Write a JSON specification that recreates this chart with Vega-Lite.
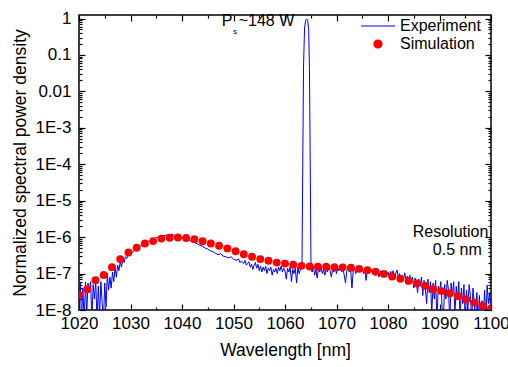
{
  "$schema": "https://vega.github.io/schema/vega-lite/v6.json",
  "width": 412,
  "height": 295,
  "autosize": {"type": "none"},
  "padding": {"left": 79, "top": 15, "right": 17, "bottom": 57},
  "background": "white",
  "config": {
    "font": "Liberation Sans",
    "view": {"stroke": "black", "strokeWidth": 1.5},
    "axis": {
      "domain": false, "grid": false, "tickColor": "black", "tickWidth": 1.2,
      "labelColor": "black", "titleColor": "black",
      "labelFont": "Liberation Sans", "labelFontSize": 17,
      "titleFont": "Liberation Sans", "titleFontSize": 17.5, "titleFontWeight": "normal"
    },
    "legend": {"labelFont": "Liberation Sans", "labelFontSize": 16, "labelColor": "black", "padding": 0}
  },
  "datasets": {
    "exp": [
      {"w":1020.0,"p":5e-9},{"w":1020.25,"p":5.5e-8},{"w":1020.5,"p":6e-9},{"w":1020.75,"p":4e-8},
      {"w":1021.0,"p":5e-9},{"w":1021.25,"p":5.8e-8},{"w":1021.5,"p":8e-9},{"w":1021.75,"p":5.5e-8},
      {"w":1022.0,"p":3e-8},{"w":1022.25,"p":6e-8},{"w":1022.5,"p":5e-9},{"w":1022.75,"p":5e-8},
      {"w":1023.0,"p":2e-8},{"w":1023.25,"p":6.5e-8},{"w":1023.5,"p":5e-9},{"w":1023.75,"p":4.5e-8},
      {"w":1024.0,"p":7e-9},{"w":1024.25,"p":6e-8},{"w":1024.5,"p":1.5e-8},{"w":1024.75,"p":5e-9},
      {"w":1025.0,"p":5.5e-8},{"w":1025.25,"p":1.2e-8},{"w":1025.5,"p":1.0e-7},{"w":1025.75,"p":3.5e-8},
      {"w":1026.0,"p":8e-8},{"w":1026.25,"p":4e-8},{"w":1026.5,"p":1.1e-7},{"w":1026.75,"p":6e-8},
      {"w":1027.0,"p":1.5e-7},{"w":1027.25,"p":8e-8},{"w":1027.5,"p":1.7e-7},{"w":1027.75,"p":1.2e-7},
      {"w":1028.0,"p":2.1e-7},{"w":1028.25,"p":1.5e-7},{"w":1028.5,"p":2.4e-7},{"w":1028.75,"p":2.0e-7},
      {"w":1029.0,"p":2.9e-7},{"w":1029.25,"p":2.6e-7},{"w":1029.5,"p":3.2e-7},{"w":1029.75,"p":3.3e-7},
      {"w":1030.0,"p":3.5e-7},{"w":1030.5,"p":4.0e-7},{"w":1031.0,"p":4.6e-7},{"w":1031.5,"p":5.2e-7},
      {"w":1032.0,"p":5.8e-7},{"w":1032.5,"p":6.5e-7},{"w":1033.0,"p":7.1e-7},{"w":1033.5,"p":7.7e-7},
      {"w":1034.0,"p":8.4e-7},{"w":1034.5,"p":9.0e-7},{"w":1035.0,"p":9.6e-7},{"w":1035.5,"p":1.02e-6},
      {"w":1036.0,"p":1.06e-6},{"w":1036.5,"p":1.1e-6},{"w":1037.0,"p":1.13e-6},{"w":1037.5,"p":1.18e-6},
      {"w":1037.75,"p":1.12e-6},{"w":1038.0,"p":1.2e-6},{"w":1038.5,"p":1.12e-6},{"w":1039.0,"p":1.08e-6},
      {"w":1039.5,"p":1.02e-6},{"w":1040.0,"p":9.6e-7},{"w":1040.5,"p":9.1e-7},{"w":1041.0,"p":8.7e-7},
      {"w":1041.5,"p":8.0e-7},{"w":1042.0,"p":7.6e-7},{"w":1042.5,"p":7.0e-7},{"w":1043.0,"p":6.6e-7},
      {"w":1043.5,"p":5.9e-7},{"w":1044.0,"p":5.6e-7},{"w":1044.5,"p":5.0e-7},{"w":1045.0,"p":4.7e-7},
      {"w":1045.5,"p":4.2e-7},{"w":1046.0,"p":4.0e-7},{"w":1046.5,"p":3.6e-7},{"w":1047.0,"p":3.3e-7},
      {"w":1047.5,"p":3.5e-7},{"w":1048.0,"p":3.0e-7},{"w":1048.5,"p":2.9e-7},{"w":1049.0,"p":2.7e-7},
      {"w":1049.5,"p":2.9e-7},{"w":1050.0,"p":2.5e-7},{"w":1050.5,"p":2.3e-7},{"w":1051.0,"p":2.5e-7},
      {"w":1051.25,"p":2.0e-7},{"w":1051.5,"p":2.2e-7},{"w":1052.0,"p":1.9e-7},{"w":1052.25,"p":2.3e-7},
      {"w":1052.5,"p":1.7e-7},{"w":1052.75,"p":1.9e-7},{"w":1053.0,"p":2.1e-7},{"w":1053.25,"p":1.5e-7},
      {"w":1053.5,"p":1.8e-7},{"w":1053.75,"p":1.3e-7},{"w":1054.0,"p":1.7e-7},{"w":1054.25,"p":2.0e-7},
      {"w":1054.5,"p":1.4e-7},{"w":1054.75,"p":1.8e-7},{"w":1055.0,"p":1.2e-7},{"w":1055.25,"p":1.6e-7},
      {"w":1055.5,"p":1.1e-7},{"w":1055.75,"p":1.5e-7},{"w":1056.0,"p":1.2e-7},{"w":1056.25,"p":1.6e-7},
      {"w":1056.5,"p":1.0e-7},{"w":1056.75,"p":1.4e-7},{"w":1057.0,"p":1.2e-7},{"w":1057.25,"p":1.5e-7},
      {"w":1057.5,"p":9e-8},{"w":1057.75,"p":1.3e-7},{"w":1058.0,"p":1.1e-7},{"w":1058.25,"p":1.4e-7},
      {"w":1058.5,"p":1.0e-7},{"w":1058.75,"p":1.5e-7},{"w":1059.0,"p":1.2e-7},{"w":1059.25,"p":1.6e-7},
      {"w":1059.5,"p":1.1e-7},{"w":1059.75,"p":1.4e-7},{"w":1060.0,"p":1.2e-7},{"w":1060.25,"p":7e-8},
      {"w":1060.5,"p":1.4e-7},{"w":1060.75,"p":1.1e-7},{"w":1061.0,"p":1.5e-7},{"w":1061.25,"p":6e-8},
      {"w":1061.5,"p":1.3e-7},{"w":1061.75,"p":1.0e-7},{"w":1062.0,"p":1.4e-7},{"w":1062.25,"p":5.5e-8},
      {"w":1062.5,"p":1.5e-7},{"w":1062.75,"p":1.0e-7},{"w":1063.0,"p":1.3e-7},{"w":1063.3,"p":1.4e-7},
      {"w":1063.45,"p":1e-4},{"w":1063.6,"p":0.05},{"w":1063.8,"p":0.55},{"w":1064.0,"p":0.88},
      {"w":1064.2,"p":0.97},{"w":1064.4,"p":0.9},{"w":1064.6,"p":0.5},{"w":1064.75,"p":0.04},
      {"w":1064.9,"p":1e-4},{"w":1065.05,"p":1.5e-7},
      {"w":1065.25,"p":1.1e-7},{"w":1065.5,"p":1.6e-7},{"w":1065.75,"p":9e-8},{"w":1066.0,"p":1.3e-7},
      {"w":1066.25,"p":7.5e-8},{"w":1066.5,"p":1.4e-7},{"w":1066.75,"p":1.1e-7},{"w":1067.0,"p":1.5e-7},
      {"w":1067.25,"p":1.0e-7},{"w":1067.5,"p":1.3e-7},{"w":1067.75,"p":9e-8},{"w":1068.0,"p":1.4e-7},
      {"w":1068.25,"p":1.1e-7},{"w":1068.5,"p":1.6e-7},{"w":1068.75,"p":1.2e-7},{"w":1069.0,"p":8e-8},
      {"w":1069.25,"p":1.3e-7},{"w":1069.5,"p":1.1e-7},{"w":1069.75,"p":1.5e-7},{"w":1070.0,"p":1.0e-7},
      {"w":1070.25,"p":1.4e-7},{"w":1070.5,"p":1.2e-7},{"w":1070.75,"p":1.6e-7},{"w":1071.0,"p":1.1e-7},
      {"w":1071.25,"p":1.4e-7},{"w":1071.5,"p":9e-8},{"w":1071.75,"p":5.5e-8},{"w":1072.0,"p":1.2e-7},
      {"w":1072.25,"p":1.5e-7},{"w":1072.5,"p":1.1e-7},{"w":1072.75,"p":1.3e-7},{"w":1073.0,"p":4e-8},
      {"w":1073.25,"p":1.2e-7},{"w":1073.5,"p":1.4e-7},{"w":1073.75,"p":1.0e-7},{"w":1074.0,"p":1.3e-7},
      {"w":1074.25,"p":1.1e-7},{"w":1074.5,"p":1.5e-7},{"w":1074.75,"p":1.2e-7},{"w":1075.0,"p":1.4e-7},
      {"w":1075.25,"p":1.0e-7},{"w":1075.5,"p":1.3e-7},{"w":1075.75,"p":6.5e-8},{"w":1076.0,"p":1.2e-7},
      {"w":1076.25,"p":1.4e-7},{"w":1076.5,"p":1.1e-7},{"w":1076.75,"p":1.3e-7},{"w":1077.0,"p":1.0e-7},
      {"w":1077.25,"p":1.2e-7},{"w":1077.5,"p":9e-8},{"w":1077.75,"p":1.3e-7},{"w":1078.0,"p":1.1e-7},
      {"w":1078.25,"p":8e-8},{"w":1078.5,"p":1.2e-7},{"w":1078.75,"p":1.0e-7},{"w":1079.0,"p":1.1e-7},
      {"w":1079.25,"p":8.5e-8},{"w":1079.5,"p":1.0e-7},{"w":1079.75,"p":9e-8},{"w":1080.0,"p":1.1e-7},
      {"w":1080.25,"p":8e-8},{"w":1080.5,"p":1.15e-7},{"w":1080.75,"p":9e-8},{"w":1081.0,"p":1.2e-7},
      {"w":1081.25,"p":7e-8},{"w":1081.5,"p":1.0e-7},{"w":1081.75,"p":1.25e-7},{"w":1082.0,"p":8e-8},
      {"w":1082.25,"p":1.0e-7},{"w":1082.5,"p":6e-8},{"w":1082.75,"p":9e-8},{"w":1083.0,"p":7e-8},
      {"w":1083.25,"p":1.05e-7},{"w":1083.5,"p":6.5e-8},{"w":1083.75,"p":8.5e-8},{"w":1084.0,"p":5.5e-8},
      {"w":1084.25,"p":9e-8},{"w":1084.5,"p":6e-8},{"w":1084.75,"p":8e-8},{"w":1085.0,"p":4e-8},
      {"w":1085.25,"p":7.5e-8},{"w":1085.5,"p":5.5e-8},{"w":1085.75,"p":3e-8},{"w":1086.0,"p":7e-8},
      {"w":1086.25,"p":4.5e-8},{"w":1086.5,"p":8e-8},{"w":1086.75,"p":2.5e-8},{"w":1087.0,"p":6.5e-8},
      {"w":1087.25,"p":4e-8},{"w":1087.5,"p":1.5e-8},{"w":1087.75,"p":7e-8},{"w":1088.0,"p":3e-8},
      {"w":1088.25,"p":6e-8},{"w":1088.5,"p":8e-9},{"w":1088.75,"p":5.5e-8},{"w":1089.0,"p":2e-8},
      {"w":1089.25,"p":6.5e-8},{"w":1089.5,"p":5e-9},{"w":1089.75,"p":4.5e-8},{"w":1090.0,"p":3e-8},
      {"w":1090.25,"p":6e-8},{"w":1090.5,"p":1.2e-8},{"w":1090.75,"p":5e-9},{"w":1091.0,"p":5e-8},
      {"w":1091.25,"p":2e-8},{"w":1091.5,"p":6.5e-8},{"w":1091.75,"p":3.5e-8},{"w":1092.0,"p":5e-9},
      {"w":1092.25,"p":5.5e-8},{"w":1092.5,"p":2.5e-8},{"w":1092.75,"p":6e-8},{"w":1093.0,"p":8e-9},
      {"w":1093.25,"p":4.5e-8},{"w":1093.5,"p":2e-8},{"w":1093.75,"p":6e-8},{"w":1094.0,"p":5e-9},
      {"w":1094.25,"p":4e-8},{"w":1094.5,"p":1.5e-8},{"w":1094.75,"p":5e-8},{"w":1095.0,"p":5e-9},
      {"w":1095.25,"p":3.5e-8},{"w":1095.5,"p":1e-8},{"w":1095.75,"p":5e-8},{"w":1096.0,"p":2.5e-8},
      {"w":1096.25,"p":5e-9},{"w":1096.5,"p":4e-8},{"w":1096.75,"p":1.5e-8},{"w":1097.0,"p":5e-9},
      {"w":1097.25,"p":3e-8},{"w":1097.5,"p":5e-9},{"w":1097.75,"p":2.5e-8},{"w":1098.0,"p":5e-9},
      {"w":1098.25,"p":1.8e-8},{"w":1098.5,"p":5e-9},{"w":1098.75,"p":3.5e-8},{"w":1099.0,"p":5e-9},
      {"w":1099.25,"p":4.8e-8},{"w":1099.5,"p":1.5e-8},{"w":1099.75,"p":3e-8},{"w":1100.0,"p":5e-9}
    ],
    "sim": [
      {"w":1020,"p":2.6e-8},{"w":1021.6,"p":3.7e-8},{"w":1023.2,"p":6.6e-8},{"w":1024.8,"p":9.1e-8},
      {"w":1026.4,"p":1.5e-7},{"w":1028,"p":2.5e-7},{"w":1029.6,"p":3.8e-7},{"w":1031.2,"p":5.1e-7},
      {"w":1032.8,"p":6.7e-7},{"w":1034.4,"p":7.8e-7},{"w":1036,"p":9.1e-7},{"w":1037.6,"p":9.6e-7},
      {"w":1039.2,"p":9.8e-7},{"w":1040.8,"p":9.5e-7},{"w":1042.4,"p":8.8e-7},{"w":1044,"p":7.7e-7},
      {"w":1045.6,"p":6.7e-7},{"w":1047.2,"p":5.8e-7},{"w":1048.8,"p":4.9e-7},{"w":1050.4,"p":4.1e-7},
      {"w":1052,"p":3.4e-7},{"w":1053.6,"p":2.9e-7},{"w":1055.2,"p":2.5e-7},{"w":1056.8,"p":2.24e-7},
      {"w":1058.4,"p":2.0e-7},{"w":1060,"p":1.88e-7},{"w":1061.6,"p":1.75e-7},{"w":1063.2,"p":1.63e-7},
      {"w":1064.8,"p":1.56e-7},{"w":1066.4,"p":1.55e-7},{"w":1068,"p":1.54e-7},{"w":1069.6,"p":1.5e-7},
      {"w":1071.2,"p":1.48e-7},{"w":1072.8,"p":1.45e-7},{"w":1074.4,"p":1.35e-7},{"w":1076,"p":1.23e-7},
      {"w":1077.6,"p":1.12e-7},{"w":1079.2,"p":9.8e-8},{"w":1080.8,"p":8.3e-8},{"w":1082.4,"p":7.2e-8},
      {"w":1084,"p":6.3e-8},{"w":1085.6,"p":5.4e-8},{"w":1087.2,"p":4.6e-8},{"w":1088.8,"p":3.7e-8},
      {"w":1090.4,"p":3.3e-8},{"w":1092,"p":2.9e-8},{"w":1093.6,"p":2.4e-8},{"w":1095.2,"p":1.95e-8},
      {"w":1096.8,"p":1.6e-8},{"w":1098.4,"p":1.3e-8},{"w":1100,"p":1.1e-8}
    ],
    "ann": [
      {"w":1047.7,"p":0.62,"t":"P"},
      {"w":1051.0,"p":0.62,"t":"~148 W"},
      {"w":1084.8,"p":1.03e-6,"t":"Resolution"},
      {"w":1088.7,"p":3.2e-7,"t":"0.5 nm"}
    ],
    "sub": [
      {"w":1049.9,"p":0.37,"t":"s"}
    ]
  },
  "layer": [
    {
      "data": {"name": "exp"},
      "mark": {"type": "line", "strokeWidth": 1, "clip": true, "interpolate": "linear"},
      "encoding": {
        "x": {"field": "w", "type": "quantitative", "sort": null,
          "scale": {"domain": [1020, 1100], "nice": false, "zero": false},
          "axis": {"orient": "bottom", "values": [1020,1030,1040,1050,1060,1070,1080,1090,1100], "format": "d",
            "tickSize": -6, "labelPadding": 11, "labelFlush": false, "labelOverlap": false,
            "title": "Wavelength [nm]", "titlePadding": 10}},
        "y": {"field": "p", "type": "quantitative",
          "scale": {"type": "log", "domain": [1e-8, 1.25], "nice": false},
          "axis": {"orient": "left", "values": [1,0.1,0.01,0.001,0.0001,1e-5,1e-6,1e-7,1e-8],
            "tickSize": -6, "labelPadding": 14, "labelFlush": false, "labelOverlap": false,
            "labelExpr": "datum.value >= 0.5 ? '1' : datum.value >= 0.05 ? '0.1' : datum.value >= 0.005 ? '0.01' : '1E-' + round(-log(datum.value)/LN10)",
            "title": "Normalized spectral power density", "titlePadding": 6}},
        "color": {"datum": "Experiment", "type": "nominal",
          "scale": {"domain": ["Experiment", "Simulation"], "range": ["#0000ff", "#ff0000"]},
          "legend": {"title": null, "orient": "none", "legendX": 282, "legendY": 3,
            "labelOffset": 5, "rowPadding": 2,
            "encode": {
              "symbols": {"update": {
                "x": {"value": 17},
                "shape": {"signal": "datum.value === 'Experiment' ? 'stroke' : 'circle'"},
                "size": {"signal": "datum.value === 'Experiment' ? 1156 : 64"},
                "stroke": {"signal": "datum.value === 'Experiment' ? '#0000ff' : 'transparent'"},
                "fill": {"signal": "datum.value === 'Experiment' ? 'transparent' : '#ff0000'"},
                "strokeWidth": {"value": 1.2},
                "opacity": {"value": 1}
              }},
              "labels": {"update": {"x": {"value": 39}}}
            }}}
      }
    },
    {
      "data": {"name": "sim"},
      "mark": {"type": "circle", "size": 62, "opacity": 1, "clip": true},
      "encoding": {
        "x": {"field": "w", "type": "quantitative",
          "axis": {"orient": "bottom", "values": [1025,1035,1045,1055,1065,1075,1085,1095],
            "tickSize": -3, "labels": false, "title": null}},
        "y": {"field": "p", "type": "quantitative",
          "axis": {"orient": "left", "values": [2e-8,3e-8,4e-8,5e-8,6e-8,7e-8,8e-8,9e-8,2e-7,3e-7,4e-7,5e-7,6e-7,7e-7,8e-7,9e-7,2e-6,3e-6,4e-6,5e-6,6e-6,7e-6,8e-6,9e-6,2e-5,3e-5,4e-5,5e-5,6e-5,7e-5,8e-5,9e-5,2e-4,3e-4,4e-4,5e-4,6e-4,7e-4,8e-4,9e-4,0.002,0.003,0.004,0.005,0.006,0.007,0.008,0.009,0.02,0.03,0.04,0.05,0.06,0.07,0.08,0.09,0.2,0.3,0.4,0.5,0.6,0.7,0.8,0.9],
            "tickSize": -3, "labels": false, "title": null}},
        "color": {"datum": "Simulation", "type": "nominal"}
      }
    },
    {
      "data": {"name": "sim"},
      "mark": {"type": "circle", "opacity": 0},
      "encoding": {
        "x": {"field": "w", "type": "quantitative",
          "axis": {"orient": "top", "values": [1020,1030,1040,1050,1060,1070,1080,1090,1100],
            "tickSize": -6, "labels": false, "title": null}},
        "y": {"field": "p", "type": "quantitative",
          "axis": {"orient": "right", "values": [1,0.1,0.01,0.001,0.0001,1e-5,1e-6,1e-7,1e-8],
            "tickSize": -6, "labels": false, "title": null}}
      }
    },
    {
      "data": {"name": "sim"},
      "mark": {"type": "circle", "opacity": 0},
      "encoding": {
        "x": {"field": "w", "type": "quantitative",
          "axis": {"orient": "top", "values": [1025,1035,1045,1055,1065,1075,1085,1095],
            "tickSize": -3, "labels": false, "title": null}},
        "y": {"field": "p", "type": "quantitative",
          "axis": {"orient": "right", "values": [2e-8,3e-8,4e-8,5e-8,6e-8,7e-8,8e-8,9e-8,2e-7,3e-7,4e-7,5e-7,6e-7,7e-7,8e-7,9e-7,2e-6,3e-6,4e-6,5e-6,6e-6,7e-6,8e-6,9e-6,2e-5,3e-5,4e-5,5e-5,6e-5,7e-5,8e-5,9e-5,2e-4,3e-4,4e-4,5e-4,6e-4,7e-4,8e-4,9e-4,0.002,0.003,0.004,0.005,0.006,0.007,0.008,0.009,0.02,0.03,0.04,0.05,0.06,0.07,0.08,0.09,0.2,0.3,0.4,0.5,0.6,0.7,0.8,0.9],
            "tickSize": -3, "labels": false, "title": null}}
      }
    },
    {
      "data": {"name": "ann"},
      "mark": {"type": "text", "align": "left", "baseline": "alphabetic", "fontSize": 16, "font": "Liberation Sans", "color": "black"},
      "encoding": {
        "x": {"field": "w", "type": "quantitative", "axis": null},
        "y": {"field": "p", "type": "quantitative", "axis": null},
        "text": {"field": "t"}
      }
    },
    {
      "data": {"name": "sub"},
      "mark": {"type": "text", "align": "left", "baseline": "alphabetic", "fontSize": 8, "font": "Liberation Sans", "color": "black"},
      "encoding": {
        "x": {"field": "w", "type": "quantitative", "axis": null},
        "y": {"field": "p", "type": "quantitative", "axis": null},
        "text": {"field": "t"}
      }
    }
  ],
  "resolve": {"axis": {"x": "independent", "y": "independent"}}
}
